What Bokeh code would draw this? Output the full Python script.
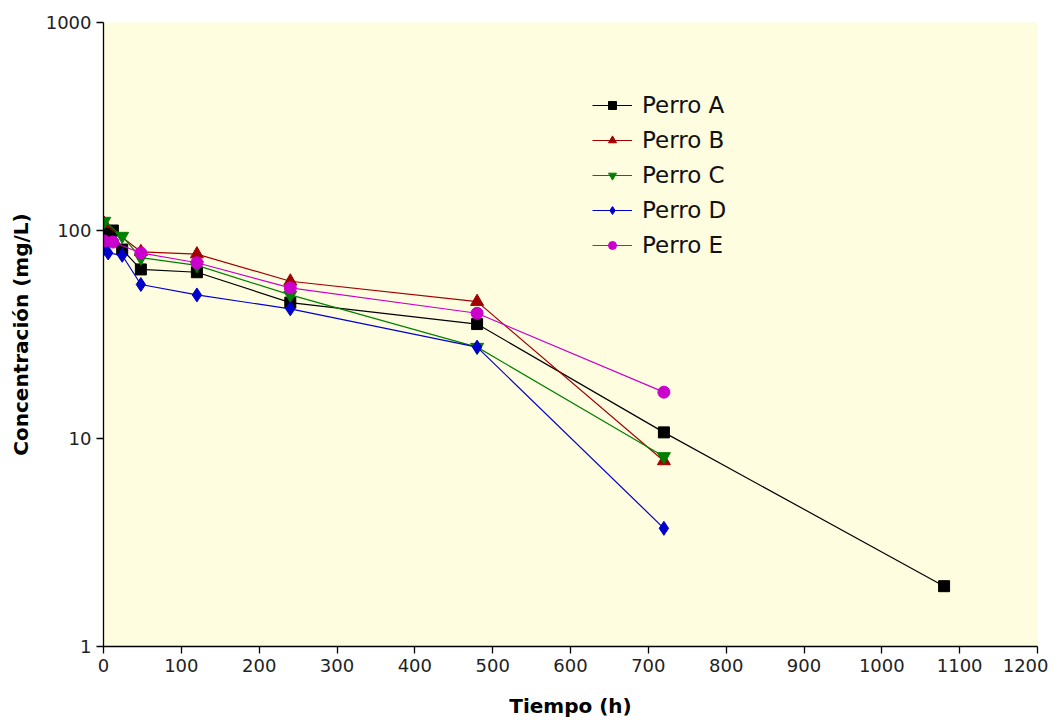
from bokeh.plotting import figure
from bokeh.models import Legend, LegendItem, FixedTicker
from bokeh.embed import file_html
from bokeh.resources import INLINE

# Data
t_a = [1, 12, 24, 48, 120, 240, 480, 720, 1080]
c_a = [98, 100, 81, 65, 63, 45, 35.5, 10.7, 1.95]

t_b = [1, 48, 120, 240, 480, 720]
c_b = [108, 79, 77, 57, 45.5, 7.8]

t_c = [1, 24, 48, 120, 240, 480, 720]
c_c = [111, 94, 74, 68, 49, 27.5, 8.2]

t_d = [1, 6, 24, 48, 120, 240, 480, 720]
c_d = [82, 78, 76, 55, 49, 42, 27.5, 3.7]

t_e = [1, 12, 48, 120, 240, 480, 720]
c_e = [89, 88, 78, 70, 53, 40, 16.7]

names = ["Perro A", "Perro B", "Perro C", "Perro D", "Perro E"]
x_ticks = [0, 100, 200, 300, 400, 500, 600, 700, 800, 900, 1000, 1100, 1200]
y_ticks = [1, 10, 100, 1000]

FONT = "DejaVu Sans"

p = figure(width=1048, height=720, x_range=(0, 1200), y_range=(1, 1000),
           y_axis_type="log", output_backend="svg", toolbar_location=None,
           min_border_left=103, min_border_right=11, min_border_top=22,
           min_border_bottom=74, background_fill_color="#FFFDE0",
           border_fill_color="white", outline_line_color=None)

p.xgrid.visible = False
p.ygrid.visible = False

for ax in (p.xaxis[0], p.yaxis[0]):
    ax.axis_line_color = "black"
    ax.axis_line_width = 1.3
    ax.major_tick_line_color = "black"
    ax.major_tick_line_width = 1.3
    ax.major_tick_in = 0
    ax.major_tick_out = 7
    ax.minor_tick_line_color = None
    ax.major_label_text_font = FONT
    ax.major_label_text_font_size = "18px"
    ax.major_label_text_color = "#222222"
    ax.axis_label_text_font = FONT
    ax.axis_label_text_font_size = "20px"
    ax.axis_label_text_font_style = "bold"
    ax.axis_label_text_color = "black"

p.xaxis.ticker = FixedTicker(ticks=x_ticks)
p.yaxis.ticker = FixedTicker(ticks=y_ticks)
p.yaxis.major_label_overrides = {1: "1", 10: "10", 100: "100", 1000: "1000"}
p.xaxis.axis_label = "Tiempo (h)"
p.yaxis.axis_label = "Concentración (mg/L)"
p.xaxis.major_label_standoff = 5
p.yaxis.major_label_standoff = 5
p.xaxis.axis_label_standoff = 19
p.yaxis.axis_label_standoff = 10

items = []

l = p.line(t_a, c_a, line_color="black", line_width=1.2)
m = p.scatter(t_a, c_a, marker="square", size=11, fill_color="black", line_color="black")
items.append(LegendItem(label=names[0], renderers=[l, m]))

l = p.line(t_b, c_b, line_color="#A00000", line_width=1.2)
m = p.scatter(t_b, c_b, marker="triangle", size=13, fill_color="#A00000", line_color="#A00000")
items.append(LegendItem(label=names[1], renderers=[l, m]))

l = p.line(t_c, c_c, line_color="#008000", line_width=1.2)
m = p.scatter(t_c, c_c, marker="inverted_triangle", size=13, fill_color="#008000", line_color="#008000")
items.append(LegendItem(label=names[2], renderers=[l, m]))

l = p.line(t_d, c_d, line_color="#0000CC", line_width=1.2)
m = p.scatter(t_d, c_d, marker="diamond", size=14, fill_color="#0000CC", line_color="#0000CC")
items.append(LegendItem(label=names[3], renderers=[l, m]))

l = p.line(t_e, c_e, line_color="#CC00CC", line_width=1.2)
m = p.scatter(t_e, c_e, marker="circle", size=12, fill_color="#CC00CC", line_color="#CC00CC")
items.append(LegendItem(label=names[4], renderers=[l, m]))

legend = Legend(items=items, location=(489, 388), background_fill_alpha=0,
                border_line_color=None, label_text_font=FONT,
                label_text_font_size="23px", label_text_color="#111111",
                glyph_width=40, glyph_height=20, label_height=20,
                label_standoff=10, spacing=9, padding=4, margin=0)
p.add_layout(legend, "center")

open("out.html", "w").write(file_html(p, INLINE))
